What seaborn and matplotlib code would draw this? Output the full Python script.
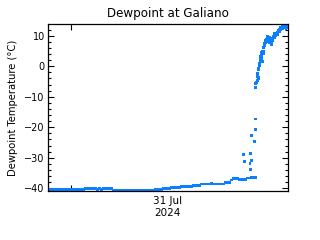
import numpy as np
import pandas as pd
import matplotlib
matplotlib.use("Agg")
import matplotlib.pyplot as plt
import seaborn as sns

# Hours relative to 31 Jul 2024 00:00
low_hours = np.round(np.arange(-2.1, 18.51, 0.2), 2)
low_dewpoint = [
    -40.5, -40.5, -40.5, -40.5, -40.5, -40.5, -40.5, -40.5, -40.5, -40.5,
    -40.5, -40.5, -40.5, -40.5, -40.5, -40.5, -40.5, -40.5,
    -40.0, -40.0, -40.0, -40.0, -40.0, -40.0,
    -40.5, -40.0, -40.5,
    -40.2, -40.2, -40.2, -40.2, -40.2,
    -40.6, -40.6, -40.6, -40.6, -40.6, -40.6, -40.6, -40.6, -40.6, -40.6,
    -40.6, -40.6, -40.6, -40.6, -40.6, -40.6, -40.6, -40.6, -40.6, -40.6, -40.6,
    -40.3, -40.3, -40.3, -40.3,
    -40.0, -40.0, -40.0, -40.0,
    -39.65, -39.65, -39.65, -39.65, -39.65,
    -39.3, -39.3, -39.3, -39.3, -39.3, -39.3,
    -39.0, -39.0, -39.0, -39.0,
    -38.6, -38.6, -38.6, -38.6, -38.6,
    -38.3,
    -38.6, -38.6, -38.6, -38.6, -38.6, -38.6,
    -38.1, -38.2, -38.2, -37.3, -36.9, -36.9, -36.9, -37.0, -37.2, -37.0,
    -37.0, -36.6, -36.6, -36.5, -36.5, -36.5,
]

jump_hours = [17.32, 17.38, 18.02, 17.95, 17.98, 18.12, 18.10, 18.44, 18.48, 18.52]
jump_dewpoint = [-28.8, -31.3, -28.7, -31.9, -33.7, -31.0, -22.8, -24.8, -20.8, -17.3]

high_hours = [
    18.48, 18.50, 18.54, 18.59, 18.63, 18.67, 18.65, 18.70, 18.74, 18.78,
    18.83, 18.79, 18.84, 18.87, 18.91, 18.95, 18.99, 19.03, 19.07, 19.11,
    19.14, 19.18, 19.15, 19.22, 19.26, 19.30, 19.34, 19.38, 19.42, 19.47,
    19.52, 19.56, 19.61, 19.65, 19.70, 19.75, 19.80, 19.85, 19.90, 19.95,
    20.00, 20.05, 20.10, 20.15, 20.20, 20.25, 20.30, 20.35, 20.40, 20.45,
    20.50, 20.55, 20.60, 20.65, 20.70, 20.75, 20.80, 20.85, 20.90, 20.95,
    21.00, 21.05, 21.10, 21.15, 21.20, 21.25, 21.30, 21.35, 21.40, 21.45,
    21.50, 21.55, 21.60, 21.65, 21.70, 21.75,
    19.08, 19.12, 19.45, 19.58, 19.68, 19.88, 20.12, 20.38, 20.58, 20.78,
]
high_dewpoint = [
    -6.9, -5.8, -5.5, -5.2, -5.4, -4.6, -3.4, -2.6, -2.2, -3.6,
    -3.9, -1.2, -0.6, 0.1, 1.0, 1.7, 2.5, 3.3, 3.8, 4.4,
    3.6, 4.8, 2.2, 1.5, 4.1, 5.0, 6.0, 6.9, 7.4, 7.9,
    8.3, 8.9, 8.5, 9.3, 9.8, 9.0, 8.2, 7.8, 8.6, 9.5,
    9.0, 7.9, 7.2, 7.6, 8.4, 9.3, 9.7, 10.1, 10.6, 9.9,
    10.4, 9.9, 10.8, 11.2, 10.5, 10.9, 11.7, 12.0, 11.3, 12.2,
    12.6, 12.1, 12.6, 12.9, 12.4, 12.8, 13.0, 12.7, 12.5, 12.9,
    12.6, 12.3, 12.7, 12.9, 12.5, 12.8,
    4.6, 3.0, 7.0, 8.0, 8.7, 9.0, 8.2, 9.4, 10.3, 11.6,
]

y_ticks = [-40, -30, -20, -10, 0, 10]

df = pd.DataFrame({
    "hours": list(low_hours) + jump_hours + high_hours,
    "dewpoint": low_dewpoint + jump_dewpoint + high_dewpoint,
})

sns.set_style("ticks")
plt.rcParams["font.family"] = ["DejaVu Sans"]

fig = plt.figure(figsize=(3.2, 2.4), dpi=100)
fig.patch.set_facecolor("white")
ax = fig.add_axes([48.3 / 320, 48.7 / 240, 240 / 320, 167.3 / 240])

sns.scatterplot(data=df, x="hours", y="dewpoint", ax=ax, marker="s",
                s=4.2, color="#0a80ff", linewidth=0, edgecolor="none")

ax.set_xlim(-2.22, 21.78)
ax.set_ylim(-40.98, 13.83)

ax.set_xticks([0])
ax.set_xticklabels([""])
ax.set_yticks(y_ticks)
ax.set_yticklabels([str(v).replace("-", "\u2212") for v in y_ticks])
ax.set_yticks(np.arange(-40, 14, 2), minor=True)

ax.tick_params(axis="both", which="major", direction="in", length=4.5,
               width=0.8, color="black", labelsize=7, pad=2.5,
               top=True, right=True, labelcolor="black")
ax.tick_params(axis="y", which="minor", direction="in", length=2.2,
               width=0.8, color="black", left=True, right=True)
for s in ax.spines.values():
    s.set_color("black")
    s.set_linewidth(0.9)

ax.set_xlabel("31 Jul\n2024", fontsize=7.5, linespacing=1.15, color="black")
ax.xaxis.set_label_coords(0.495, -0.094)
ax.xaxis.label.set_va("center")
ax.set_ylabel("Dewpoint Temperature (\u00b0C)", fontsize=7.2, color="black")
ax.yaxis.set_label_coords(-0.148, 0.5)
ax.yaxis.label.set_va("center")

fig.text(168 / 320, 1 - 13.5 / 240, "Dewpoint at Galiano", ha="center",
         va="center", fontsize=8.6, color="black")

fig.savefig("out.png", dpi=100, facecolor="white")
